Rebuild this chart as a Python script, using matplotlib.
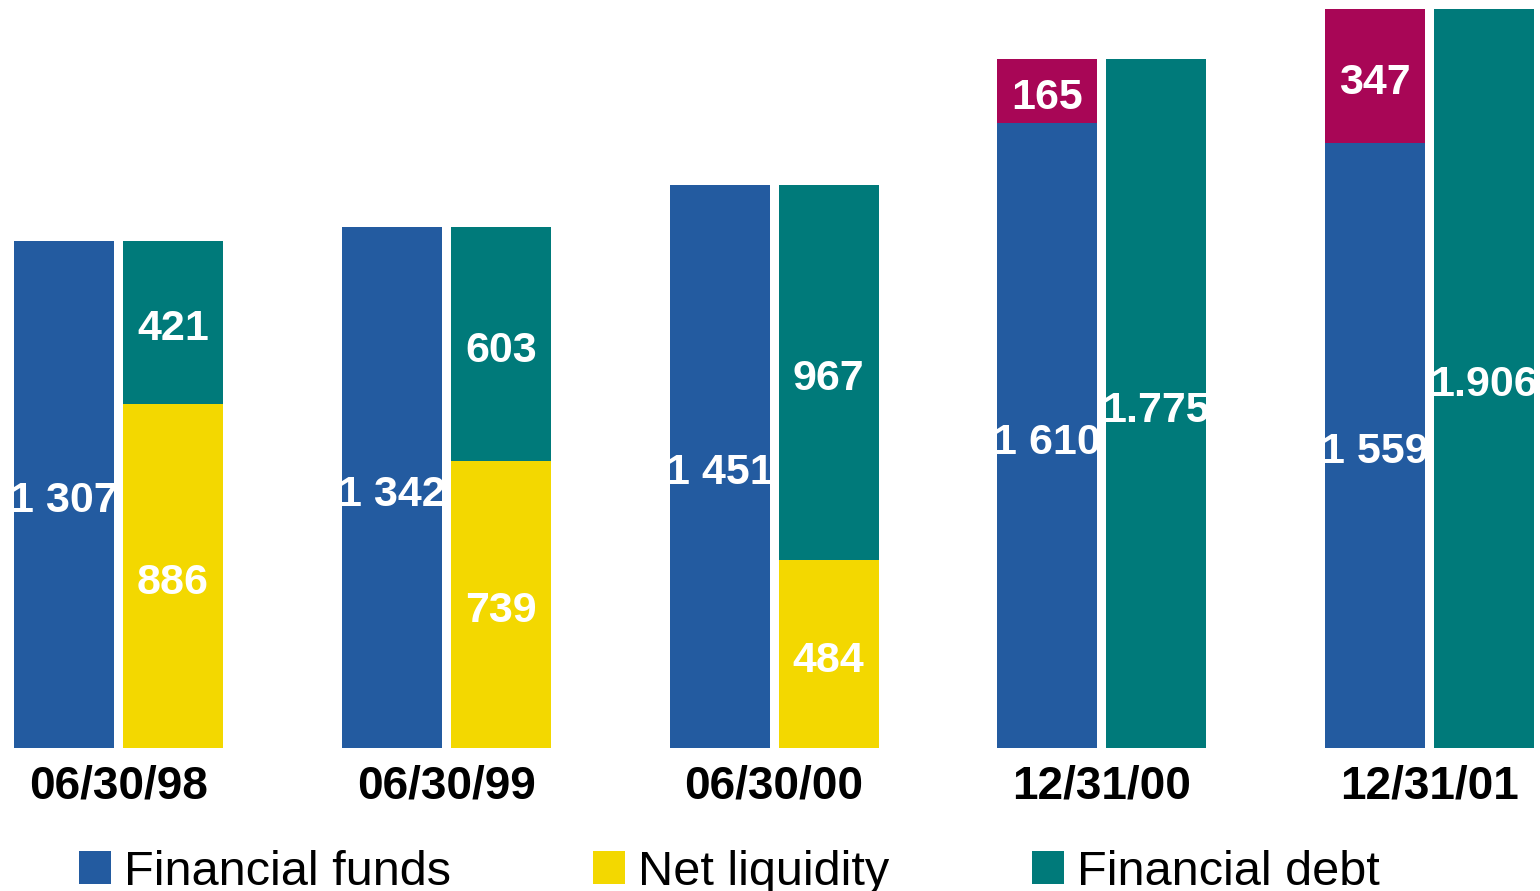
import matplotlib
matplotlib.use('Agg')
import matplotlib.pyplot as plt
import numpy as np

plt.rcParams['font.family'] = ['Liberation Sans', 'DejaVu Sans']

# 데이터
dates = ['06/30/98', '06/30/99', '06/30/00', '12/31/00', '12/31/01']
funds = [1307, 1342, 1451, 1610, 1559]
funds_txt = ['1 307', '1 342', '1 451', '1 610', '1 559']
extra = [0, 0, 0, 165, 347]
liquidity = [886, 739, 484, 0, 0]
debt = [421, 603, 967, 1775, 1906]
debt_txt = ['421', '603', '967', '1.775', '1.906']

c_blue = '#235BA0'
c_yellow = '#F3D800'
c_teal = '#007A7A'
c_mag = '#A80656'

fig = plt.figure(figsize=(15.4, 8.91), dpi=100)
ax = fig.add_axes([0, 143 / 891, 1, (891 - 143) / 891])

x = np.arange(len(dates))
w = 0.305
off = 0.3326

ax.bar(x, funds, w, color=c_blue, label='Financial funds')
ax.bar(x, extra, w, bottom=funds, color=c_mag)
ax.bar(x + off, liquidity, w, color=c_yellow, label='Net liquidity')
ax.bar(x + off, debt, w, bottom=liquidity, color=c_teal, label='Financial debt')

# 숫자 라벨 (baseline 기준으로 가운데 맞춤)
lab = dict(color='white', fontsize=31, fontweight='bold', ha='center', va='baseline')
dy = 46
for i in range(len(dates)):
    ax.text(x[i], funds[i] / 2 - dy, funds_txt[i], **lab)
    if extra[i] > 0:
        ax.text(x[i], funds[i] + extra[i] / 2 - dy, str(extra[i]), **lab)
    if liquidity[i] > 0:
        ax.text(x[i] + off, liquidity[i] / 2 - dy, str(liquidity[i]), **lab)
    ax.text(x[i] + off, liquidity[i] + debt[i] / 2 - dy, debt_txt[i], **lab)

ax.set_xlim(-0.195, 4.503)
ax.set_ylim(0, 1928)
ax.set_xticks(x + off / 2)
ax.set_xticklabels(dates, fontsize=33, fontweight='bold')
ax.tick_params(axis='x', length=0, pad=12)
ax.set_yticks([])
for s in ax.spines.values():
    s.set_visible(False)

leg = fig.legend(loc='lower left', bbox_to_anchor=(79 / 1540, -0.004), ncol=3,
                 fontsize=35, frameon=False, handlelength=0.66, handleheight=0.68,
                 handletextpad=0.27, columnspacing=2.92, borderpad=0, borderaxespad=0)

fig.savefig('out.png', dpi=100)
